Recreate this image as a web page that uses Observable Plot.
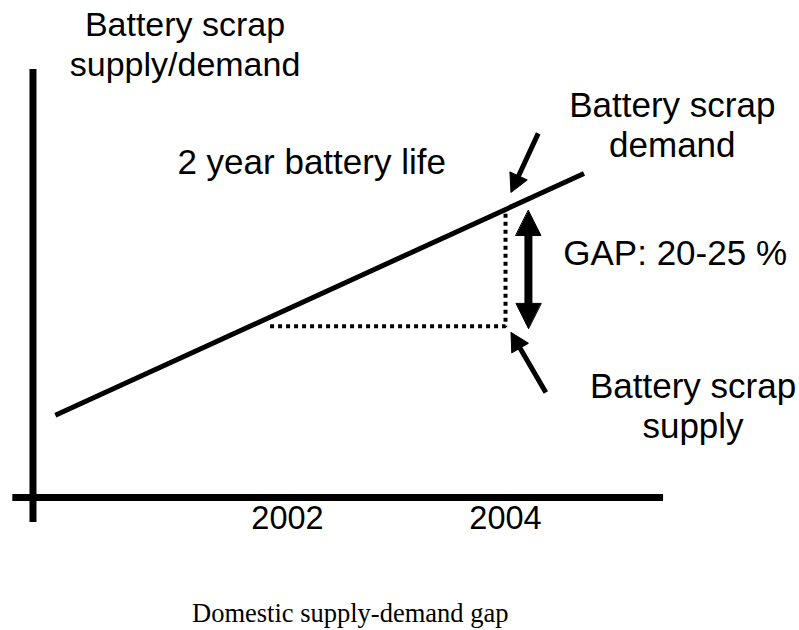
<!DOCTYPE html>
<html><head><meta charset="utf-8">
<script src="https://cdn.jsdelivr.net/npm/d3@7"></script>
<script src="https://cdn.jsdelivr.net/npm/@observablehq/plot@0.6"></script>
<style>
html,body{margin:0;padding:0;background:#fff;}
#chart figure{margin:0;padding:0;}
#chart figcaption{font-family:"Liberation Serif","Times New Roman",serif;font-size:26.5px;line-height:30px;color:#000;padding-left:192px;margin:0;}
</style></head><body><div id="chart"></div>
<script>
// ---- data (years on x, abstract supply/demand index on y) ----
const tickYears = [2002, 2004];
const demandYears = [1999.87, 2004.72];
const demandValues = [28.4, 112.1];
const supplyYears = [2001.84, 2004, 2004];
const supplyValues = [59.2, 59.2, 100];
const gapYear = 2004.21;
const gapRange = [99.3, 58.5];
const yAxisYear = 1999.665;
const yAxisRange = [-8.7, 148.1];
const xAxisRange = [1999.48, 2005.45];
const pointerTailYears = [2004.30, 2004.37];
const pointerTailValues = [126.0, 36.3];
const pointerTipYears = [2004.05, 2004.05];
const pointerTipValues = [105.6, 57.1];
const labelTexts = ["Battery scrap\nsupply/demand", "2 year battery life", "Battery scrap\ndemand", "GAP: 20-25 %", "Battery scrap\nsupply"];
const labelYears = [2001.06, 2000.99, 2005.53, 2004.53, 2005.72];
const labelValues = [145.7, 112.1, 117.7, 80.3, 20.7];
const captionText = "Domestic supply-demand gap";

// ---- layout ----
const W = 799, H = 598;
const xDomain = [1999.367, 2006.697];
const yDomain = [-35, 172];
const font = "'Liberation Sans', Arial, Helvetica, sans-serif";

const xs = Plot.scale({x: {domain: xDomain, range: [0, W]}});
const ys = Plot.scale({y: {domain: yDomain, range: [H, 0]}});
const angle = (x1, y1, x2, y2) => {
  const dx = xs.apply(x2) - xs.apply(x1);
  const dy = ys.apply(y2) - ys.apply(y1);
  return Math.atan2(dx, -dy) * 180 / Math.PI;
};

const demand = demandYears.map((x, i) => ({x, y: demandValues[i]}));
const supply = supplyYears.map((x, i) => ({x, y: supplyValues[i]}));
const gapArrow = [{x1: gapYear, y1: gapRange[1], x2: gapYear, y2: gapRange[0]}];
const gapHeads = [
  {x: gapYear, y: gapRange[0], r: angle(gapYear, gapRange[1], gapYear, gapRange[0])},
  {x: gapYear, y: gapRange[1], r: angle(gapYear, gapRange[0], gapYear, gapRange[1])}
];
const pointers = pointerTailYears.map((x1, i) => ({
  x1, y1: pointerTailValues[i], x2: pointerTipYears[i], y2: pointerTipValues[i],
  r: angle(x1, pointerTailValues[i], pointerTipYears[i], pointerTipValues[i])
}));
const labels = labelTexts.map((t, i) => ({t, x: labelYears[i], y: labelValues[i]}));

const head = (w) => ({
  draw(context, l) {
    context.moveTo(0, -l);
    context.lineTo(w / 2, 0);
    context.lineTo(-w / 2, 0);
    context.closePath();
  }
});

const chart = Plot.plot({
  width: W, height: H, margin: 0,
  x: {domain: xDomain, axis: null},
  y: {domain: yDomain, axis: null},
  style: {background: "white", color: "black", fontFamily: font},
  caption: captionText,
  marks: [
    // axes lines
    Plot.ruleX([yAxisYear], {y1: yAxisRange[0], y2: yAxisRange[1], stroke: "black", strokeWidth: 7}),
    Plot.ruleY([0], {x1: xAxisRange[0], x2: xAxisRange[1], stroke: "black", strokeWidth: 7}),
    // tick labels
    Plot.text(tickYears, {x: d => d, y: -10.8, text: d => String(d), fontSize: 32.5, lineAnchor: "bottom", fill: "black", fontFamily: font}),
    // supply (dotted)
    Plot.line(supply, {x: "x", y: "y", stroke: "black", strokeWidth: 4, strokeDasharray: "4,4", strokeLinecap: "butt", strokeLinejoin: "miter"}),
    // demand line
    Plot.line(demand, {x: "x", y: "y", stroke: "black", strokeWidth: 5, strokeLinecap: "butt"}),
    // gap double arrow
    Plot.arrow(gapArrow, {x1: "x1", y1: "y1", x2: "x2", y2: "y2", inset: 22, headLength: 0, stroke: "black", strokeWidth: 8, strokeLinecap: "butt"}),
    Plot.vector(gapHeads, {x: "x", y: "y", rotate: "r", length: 25, anchor: "end", shape: head(25), fill: "black", stroke: "black", strokeWidth: 1}),
    // pointers
    Plot.arrow(pointers, {x1: "x1", y1: "y1", x2: "x2", y2: "y2", insetEnd: 15, headLength: 0, stroke: "black", strokeWidth: 5, strokeLinecap: "butt"}),
    Plot.vector(pointers, {x: "x2", y: "y2", rotate: "r", length: 18, anchor: "end", shape: head(19), fill: "black", stroke: "black", strokeWidth: 1}),
    // labels
    Plot.text(labels.filter((d, i) => i === 0), {x: "x", y: "y", text: "t", fontSize: 34, lineHeight: 40 / 34, lineAnchor: "bottom", textAnchor: "middle", fill: "black", fontFamily: font}),
    Plot.text(labels.filter((d, i) => i === 1 || i === 3), {x: "x", y: "y", text: "t", fontSize: 35, lineAnchor: "bottom", textAnchor: "start", fill: "black", fontFamily: font}),
    Plot.text(labels.filter((d, i) => i === 2 || i === 4), {x: "x", y: "y", text: "t", fontSize: 35, lineHeight: 40 / 35, lineAnchor: "bottom", textAnchor: "middle", fill: "black", fontFamily: font})
  ]
});
document.getElementById("chart").appendChild(chart);
</script>
</body></html>
